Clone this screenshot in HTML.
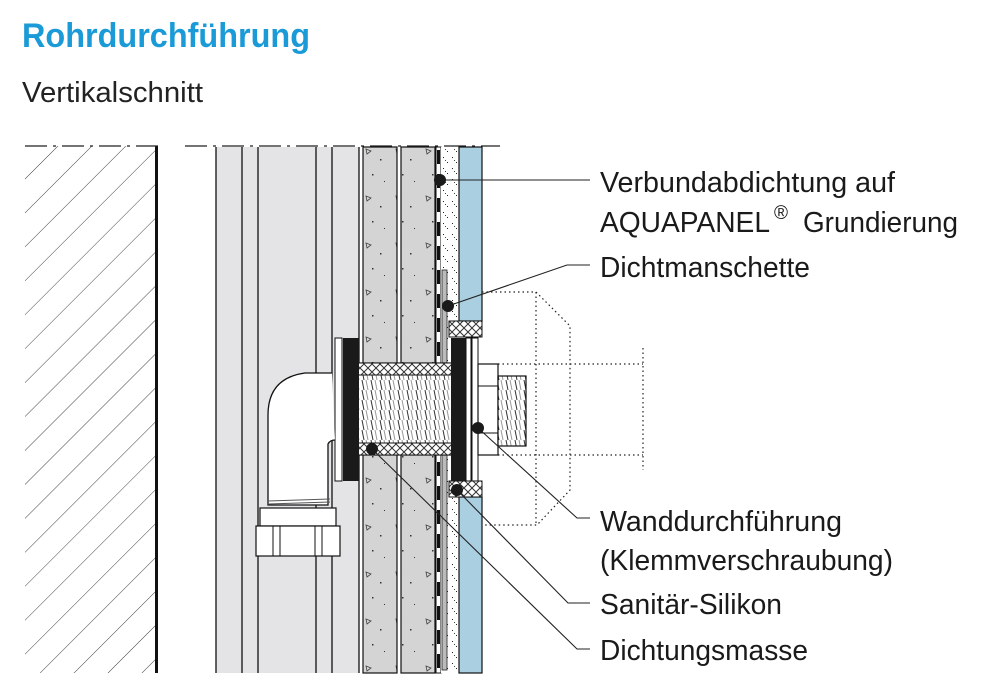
<!DOCTYPE html>
<html><head><meta charset="utf-8"><style>
body{margin:0;background:#fff;width:993px;height:698px;overflow:hidden}
svg{display:block}
</style></head><body>
<svg width="993" height="698" viewBox="0 0 993 698" xmlns="http://www.w3.org/2000/svg" font-family="Liberation Sans, Arial, sans-serif">
<defs>
<pattern id="hatch" width="24" height="24" patternUnits="userSpaceOnUse" patternTransform="rotate(45)">
<line x1="0" y1="0" x2="0" y2="24" stroke="#444" stroke-width="1"/>
</pattern>
<pattern id="xh" width="8" height="8" patternUnits="userSpaceOnUse">
<rect width="8" height="8" fill="#fff"/>
<path d="M0 0L8 8M8 0L0 8" stroke="#333" stroke-width="1"/>
</pattern>
<pattern id="dots" width="9" height="11" patternUnits="userSpaceOnUse">
<rect width="9" height="11" fill="#fff"/>
<rect x="2" y="3" width="1" height="1" fill="#222"/><rect x="6" y="8" width="1" height="1" fill="#222"/><rect x="4" y="6" width="1" height="1" fill="#444"/>
</pattern>
<pattern id="conc" width="30" height="47" patternUnits="userSpaceOnUse">
<rect width="30" height="47" fill="#d4d4d4"/>
<path d="M6 8l5 2-4 3z" fill="none" stroke="#444" stroke-width="0.8"/>
<rect x="20" y="18" width="1.5" height="1.5" fill="#333"/><rect x="12" y="33" width="1.5" height="1.5" fill="#333"/><rect x="24" y="40" width="1" height="1" fill="#333"/>
</pattern>
<pattern id="thr" width="9" height="10" patternUnits="userSpaceOnUse">
<rect width="9" height="10" fill="#fff"/>
<line x1="2" y1="0" x2="4" y2="10" stroke="#333" stroke-width="1"/>
<line x1="6" y1="0" x2="8" y2="10" stroke="#999" stroke-width="1"/>
</pattern>
</defs>

<text x="22" y="47" font-size="34" font-weight="bold" fill="#1a9ad6" textLength="288" lengthAdjust="spacingAndGlyphs">Rohrdurchführung</text>
<text x="22" y="102" font-size="29" fill="#222" textLength="181" lengthAdjust="spacingAndGlyphs">Vertikalschnitt</text>

<rect x="25" y="146" width="131" height="527" fill="url(#hatch)"/>
<rect x="155" y="146" width="3" height="527" fill="#111"/>
<line x1="25" y1="146" x2="158" y2="146" stroke="#222" stroke-width="1.3" stroke-dasharray="22,6,3,6"/>
<line x1="185" y1="146" x2="500" y2="146" stroke="#222" stroke-width="1.3" stroke-dasharray="22,6,3,6"/>

<rect x="216" y="147" width="143" height="526" fill="#e4e4e6"/>
<g stroke="#111" stroke-width="1.3">
<line x1="216" y1="147" x2="216" y2="673"/><line x1="242" y1="147" x2="242" y2="673"/><line x1="258" y1="147" x2="258" y2="673"/>
<line x1="316" y1="147" x2="316" y2="673"/><line x1="332" y1="147" x2="332" y2="673"/><line x1="359" y1="147" x2="359" y2="673"/>
</g>
<rect x="363" y="147" width="34" height="526" fill="url(#conc)" stroke="#111" stroke-width="1.2"/>
<rect x="401" y="147" width="34" height="526" fill="url(#conc)" stroke="#111" stroke-width="1.2"/>
<rect x="436" y="147" width="5" height="526" fill="#fff" stroke="#111" stroke-width="1"/>
<line x1="438.5" y1="150" x2="438.5" y2="670" stroke="#111" stroke-width="3" stroke-dasharray="14,10"/>
<rect x="441" y="147" width="18" height="526" fill="url(#dots)"/>
<rect x="442" y="270" width="5" height="400" fill="#bbb" stroke="#222" stroke-width="0.8"/>
<rect x="459" y="147" width="23" height="174" fill="#a9cfe0" stroke="#111" stroke-width="1.2"/>
<rect x="459" y="497" width="23" height="176" fill="#a9cfe0" stroke="#111" stroke-width="1.2"/>
<rect x="449" y="321" width="33" height="16" fill="url(#xh)" stroke="#111"/>
<rect x="449" y="481" width="33" height="16" fill="url(#xh)" stroke="#111"/>

<g fill="none" stroke="#222" stroke-width="1.2" stroke-dasharray="1.5,3">
<path d="M482 292H536L570 326V490L537 525H482"/>
<line x1="536" y1="292" x2="536" y2="525"/>
<path d="M498 364H643M498 455H643M643 348V470"/>
</g>

<rect x="358" y="363" width="94" height="92" fill="url(#thr)" stroke="#111" stroke-width="1.2"/>
<rect x="358" y="363" width="94" height="12" fill="url(#xh)" stroke="#111"/>
<rect x="358" y="443" width="94" height="12" fill="url(#xh)" stroke="#111"/>
<rect x="335" y="338" width="7" height="143" fill="#fff" stroke="#111"/>
<rect x="343" y="338" width="16" height="143" fill="#1a1a1a"/>
<rect x="451" y="338" width="15" height="143" fill="#1a1a1a"/>
<rect x="466" y="338" width="5" height="143" fill="#fff" stroke="#111"/>
<rect x="472" y="338" width="6" height="143" fill="#fff" stroke="#111"/>
<rect x="478" y="364" width="20" height="91" fill="#fff" stroke="#111" stroke-width="1.2"/>
<line x1="478" y1="386" x2="498" y2="386" stroke="#111"/><line x1="478" y1="433" x2="498" y2="433" stroke="#111"/>
<rect x="498" y="376" width="28" height="70" fill="url(#thr)" stroke="#111" stroke-width="1.2"/>

<path d="M332 373H305Q268 378 268 415V505H328V444Q330 440 335 440" fill="#fff" stroke="#111" stroke-width="1.3"/>
<g stroke="#555" stroke-width="1"><line x1="268" y1="501" x2="330" y2="499"/><line x1="268" y1="504" x2="330" y2="502"/></g>
<rect x="260" y="508" width="76" height="18" fill="#fff" stroke="#111" stroke-width="1.2"/>
<rect x="256" y="526" width="84" height="30" fill="#fff" stroke="#111" stroke-width="1.2"/>
<g stroke="#111"><line x1="273" y1="526" x2="273" y2="556"/><line x1="280" y1="526" x2="280" y2="556"/><line x1="315" y1="526" x2="315" y2="556"/><line x1="322" y1="526" x2="322" y2="556"/></g>

<g stroke="#222" stroke-width="1.1" fill="none">
<path d="M440 180H590"/>
<path d="M448 306L567 265H590"/>
<path d="M478 428L577 518H590"/>
<path d="M457 490L568 603H590"/>
<path d="M372 449L577 649H590"/>
</g>
<g fill="#1a1a1a">
<circle cx="440" cy="180" r="6"/><circle cx="448" cy="306" r="6"/><circle cx="478" cy="428" r="6"/><circle cx="457" cy="490" r="6"/><circle cx="372" cy="449" r="6"/>
</g>

<g font-size="29" fill="#1a1a1a">
<text x="600" y="192" textLength="295" lengthAdjust="spacingAndGlyphs">Verbundabdichtung auf</text>
<text x="600" y="232" textLength="170" lengthAdjust="spacingAndGlyphs">AQUAPANEL</text>
<text x="774" y="219" font-size="19">®</text>
<text x="803" y="232" textLength="155" lengthAdjust="spacingAndGlyphs">Grundierung</text>
<text x="600" y="277" textLength="210" lengthAdjust="spacingAndGlyphs">Dichtmanschette</text>
<text x="600" y="531" textLength="242" lengthAdjust="spacingAndGlyphs">Wanddurchführung</text>
<text x="600" y="570" textLength="293" lengthAdjust="spacingAndGlyphs">(Klemmverschraubung)</text>
<text x="600" y="614" textLength="182" lengthAdjust="spacingAndGlyphs">Sanitär-Silikon</text>
<text x="600" y="660" textLength="208" lengthAdjust="spacingAndGlyphs">Dichtungsmasse</text>
</g>
</svg>
</body></html>
